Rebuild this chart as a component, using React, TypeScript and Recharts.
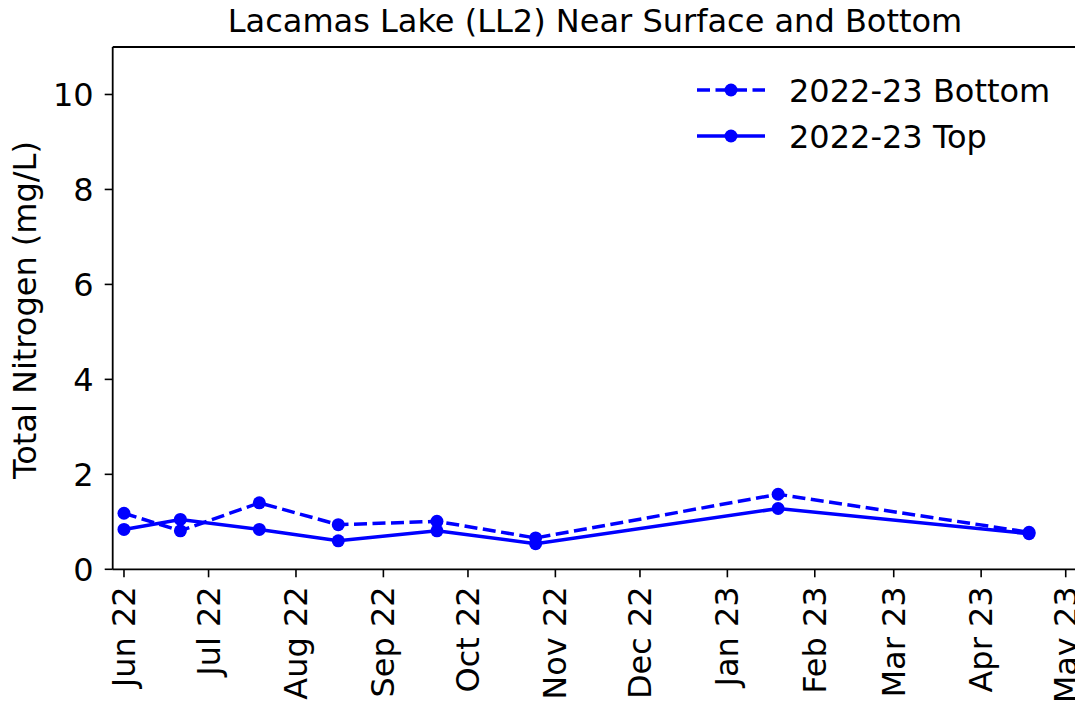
import React from "react";
import { LineChart, Line, XAxis, YAxis, ReferenceLine } from "recharts";

const sampleDates = [
  "2022-06-01",
  "2022-06-21",
  "2022-07-19",
  "2022-08-16",
  "2022-09-20",
  "2022-10-25",
  "2023-01-19",
  "2023-04-18",
];
const bottomValues = [1.18, 0.81, 1.4, 0.94, 1.01, 0.66, 1.58, 0.78];
const topValues = [0.84, 1.05, 0.84, 0.6, 0.81, 0.54, 1.28, 0.75];

const monthTicks = [
  "2022-06-01",
  "2022-07-01",
  "2022-08-01",
  "2022-09-01",
  "2022-10-01",
  "2022-11-01",
  "2022-12-01",
  "2023-01-01",
  "2023-02-01",
  "2023-03-01",
  "2023-04-01",
  "2023-05-01",
];
const yTicks = [0, 2, 4, 6, 8, 10];

const monthNames = ["Jan", "Feb", "Mar", "Apr", "May", "Jun", "Jul", "Aug", "Sep", "Oct", "Nov", "Dec"];

const data = sampleDates.map((d, i) => ({
  t: Date.parse(d),
  bottom: bottomValues[i],
  top: topValues[i],
}));

const FONT = "DejaVu Sans, sans-serif";
const FS = 32;
const BLUE = "#0000ff";

const fmtMonth = (v: number) => {
  const d = new Date(v);
  return monthNames[d.getUTCMonth()] + " " + String(d.getUTCFullYear()).slice(2);
};

const XTick = (props: any) => {
  const { x, y, payload } = props;
  return (
    <text
      x={x}
      y={y}
      transform={`rotate(-90, ${x}, ${y})`}
      textAnchor="end"
      dominantBaseline="central"
      fontFamily={FONT}
      fontSize={FS}
      fill="#000"
    >
      {fmtMonth(payload.value)}
    </text>
  );
};

const App = () => {
  return (
    <div style={{ position: "absolute", left: 0, top: 0, width: 1075, height: 709, overflow: "hidden", background: "#fff" }}>
      <LineChart
        width={1090}
        height={709}
        data={data}
        margin={{ top: 47, right: 13, bottom: 0, left: 0 }}
      >
        <XAxis
          dataKey="t"
          type="number"
          domain={[Date.parse("2022-05-28"), Date.parse("2023-05-05")]}
          ticks={monthTicks.map((m) => Date.parse(m))}
          tick={<XTick />}
          tickSize={8}
          tickMargin={9}
          height={139.7}
          interval={0}
          axisLine={{ stroke: "#000", strokeWidth: 1.8 }}
          tickLine={{ stroke: "#000", strokeWidth: 1.6 }}
          allowDataOverflow
        />
        <YAxis
          type="number"
          domain={[0, 11]}
          ticks={yTicks}
          width={112.7}
          tickSize={8}
          tickMargin={11}
          interval={0}
          axisLine={{ stroke: "#000", strokeWidth: 1.8 }}
          tickLine={{ stroke: "#000", strokeWidth: 1.6 }}
          tick={{ fill: "#000", fontSize: FS, fontFamily: FONT }}
          allowDataOverflow
        />
        <ReferenceLine y={11} stroke="#000" strokeWidth={1.8} ifOverflow="extendDomain" />
        <Line
          dataKey="bottom"
          name="2022-23 Bottom"
          type="linear"
          stroke={BLUE}
          strokeWidth={3.5}
          strokeDasharray="13 5.5"
          dot={{ r: 6.5, fill: BLUE, stroke: BLUE, strokeWidth: 0, strokeDasharray: "none" }}
          isAnimationActive={false}
        />
        <Line
          dataKey="top"
          name="2022-23 Top"
          type="linear"
          stroke={BLUE}
          strokeWidth={3.5}
          dot={{ r: 6.5, fill: BLUE, stroke: BLUE, strokeWidth: 0 }}
          isAnimationActive={false}
        />
      </LineChart>
      <svg
        width={1075}
        height={709}
        style={{ position: "absolute", left: 0, top: 0, pointerEvents: "none" }}
      >
        <text x={595} y={31.5} textAnchor="middle" fontFamily={FONT} fontSize={FS} fill="#000">
          Lacamas Lake (LL2) Near Surface and Bottom
        </text>
        <text
          x={36}
          y={310}
          transform="rotate(-90, 36, 310)"
          textAnchor="middle"
          fontFamily={FONT}
          fontSize={FS}
          fill="#000"
        >
          Total Nitrogen (mg/L)
        </text>
        <line x1={697} y1={90} x2={765} y2={90} stroke={BLUE} strokeWidth={3.5} strokeDasharray="13 5.5" />
        <circle cx={731} cy={90} r={6.5} fill={BLUE} />
        <text x={789} y={101.5} fontFamily={FONT} fontSize={FS} fill="#000">
          2022-23 Bottom
        </text>
        <line x1={697} y1={136} x2={765} y2={136} stroke={BLUE} strokeWidth={3.5} />
        <circle cx={731} cy={136} r={6.5} fill={BLUE} />
        <text x={789} y={147.5} fontFamily={FONT} fontSize={FS} fill="#000">
          2022-23 Top
        </text>
      </svg>
    </div>
  );
};

export default App;
